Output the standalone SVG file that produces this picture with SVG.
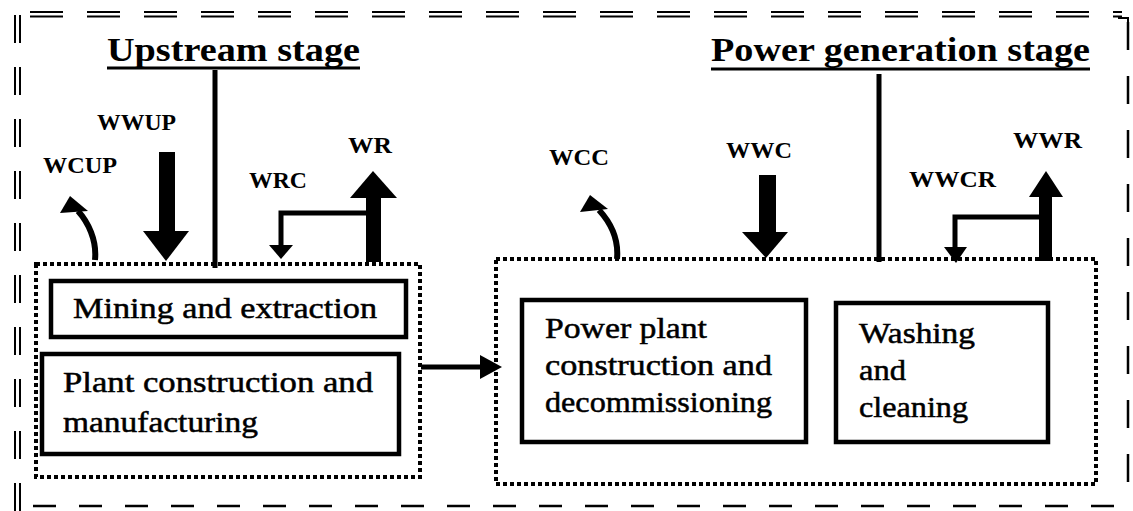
<svg xmlns="http://www.w3.org/2000/svg" width="1133" height="511" viewBox="0 0 1133 511">
<style>
text{font-family:'Liberation Serif','DejaVu Serif','Times New Roman',serif;fill:#000}
.title{font-weight:bold;font-size:34px}
.lab{font-weight:bold;font-size:24px}
.txt{font-size:29px;stroke:#000;stroke-width:0.5}
.box{fill:#fff;stroke:#000;stroke-width:4.5}
.dot{fill:none;stroke:#000;stroke-width:4;stroke-dasharray:4 3}
.ln{fill:none;stroke:#000}
.hd{fill:#000}
</style>
<rect width="1133" height="511" fill="#fff"/>
<g id="frame" class="ln">
<line x1="30" y1="12" x2="1122" y2="12" stroke-width="2" stroke-dasharray="33 24"/>
<line x1="30" y1="16.5" x2="1122" y2="16.5" stroke-width="2" stroke-dasharray="33 24"/>
<line x1="15" y1="15" x2="15" y2="511" stroke-width="2" stroke-dasharray="28 24"/>
<line x1="20" y1="15" x2="20" y2="511" stroke-width="2" stroke-dasharray="28 24"/>
<line x1="1128" y1="22" x2="1128" y2="492" stroke-width="2.5" stroke-dasharray="28 26"/>
<line x1="33" y1="506" x2="1133" y2="506" stroke-width="2.5" stroke-dasharray="23 23"/>
<path d="M1118 18 H1128 V24" stroke-width="2"/>
</g>
<g id="upstream-stage">
<text class="title" x="107" y="61" textLength="253" lengthAdjust="spacingAndGlyphs" font-family="Liberation Serif, serif">Upstream stage</text>
<line class="ln" x1="107" y1="68" x2="360" y2="68" stroke-width="3"/>
<rect class="dot" x="36" y="264" width="384" height="213"/>
</g>
<g id="power-stage">
<text class="title" x="711" y="61" textLength="379" lengthAdjust="spacingAndGlyphs">Power generation stage</text>
<line class="ln" x1="711" y1="69" x2="1090" y2="69" stroke-width="3"/>
<rect class="dot" x="496" y="259" width="600" height="225"/>
</g>
<g id="mining">
<rect class="box" x="51" y="281" width="355" height="56"/>
<text class="txt" x="73" y="318" textLength="304" lengthAdjust="spacingAndGlyphs">Mining and extraction</text>
</g>
<g id="plant-construction">
<rect class="box" x="42" y="354" width="357" height="100"/>
<text class="txt" x="63" y="392" textLength="310" lengthAdjust="spacingAndGlyphs">Plant construction and</text>
<text class="txt" x="63" y="432" textLength="195" lengthAdjust="spacingAndGlyphs">manufacturing</text>
</g>
<g id="power-plant">
<rect class="box" x="522" y="300" width="284" height="142"/>
<text class="txt" x="545" y="338" textLength="162" lengthAdjust="spacingAndGlyphs">Power plant</text>
<text class="txt" x="545" y="375" textLength="227" lengthAdjust="spacingAndGlyphs">construction and</text>
<text class="txt" x="545" y="412" textLength="227" lengthAdjust="spacingAndGlyphs">decommissioning</text>
</g>
<g id="washing">
<rect class="box" x="836" y="303" width="212" height="139"/>
<text class="txt" x="859" y="343" textLength="116" lengthAdjust="spacingAndGlyphs">Washing</text>
<text class="txt" x="859" y="380" textLength="47" lengthAdjust="spacingAndGlyphs">and</text>
<text class="txt" x="859" y="417" textLength="109" lengthAdjust="spacingAndGlyphs">cleaning</text>
</g>
<g id="labels">
<text class="lab" x="97" y="130" textLength="79" lengthAdjust="spacingAndGlyphs">WWUP</text>
<text class="lab" x="43" y="173" textLength="74" lengthAdjust="spacingAndGlyphs">WCUP</text>
<text class="lab" x="249" y="188" textLength="58" lengthAdjust="spacingAndGlyphs">WRC</text>
<text class="lab" x="348" y="153" textLength="44" lengthAdjust="spacingAndGlyphs">WR</text>
<text class="lab" x="549" y="165" textLength="60" lengthAdjust="spacingAndGlyphs">WCC</text>
<text class="lab" x="726" y="158" textLength="66" lengthAdjust="spacingAndGlyphs">WWC</text>
<text class="lab" x="909" y="187" textLength="87" lengthAdjust="spacingAndGlyphs">WWCR</text>
<text class="lab" x="1013" y="148" textLength="69" lengthAdjust="spacingAndGlyphs">WWR</text>
</g>
<g id="connectors">
<line class="ln" x1="215" y1="70" x2="215" y2="268" stroke-width="5"/>
<line class="ln" x1="879" y1="74" x2="879" y2="262" stroke-width="5"/>
<path class="ln" d="M95 260 C97 240 88 222 78 211" stroke-width="6"/>
<polygon class="hd" points="70,196 60,213 88,211"/>
<rect class="hd" x="159" y="152" width="16" height="81"/>
<polygon class="hd" points="143,231 189,231 166,261"/>
<path class="ln" d="M368 213 H281 V247" stroke-width="5"/>
<polygon class="hd" points="269,245 293,245 281,259"/>
<rect class="hd" x="366" y="196" width="15" height="66"/>
<polygon class="hd" points="350,198 397,198 373,171"/>
<line class="ln" x1="421" y1="367" x2="483" y2="367" stroke-width="5"/>
<polygon class="hd" points="480,355 480,379 502,367"/>
<path class="ln" d="M617 259 C619 238 610 222 599 210" stroke-width="6"/>
<polygon class="hd" points="590,195 580,212 608,209"/>
<rect class="hd" x="759" y="175" width="17" height="59"/>
<polygon class="hd" points="742,232 788,232 766,258"/>
<path class="ln" d="M1042 217 H955 V249" stroke-width="5"/>
<polygon class="hd" points="944,247 967,247 956,263"/>
<rect class="hd" x="1039" y="195" width="13" height="66"/>
<polygon class="hd" points="1029,197 1063,197 1046,171"/>
</g>
</svg>
